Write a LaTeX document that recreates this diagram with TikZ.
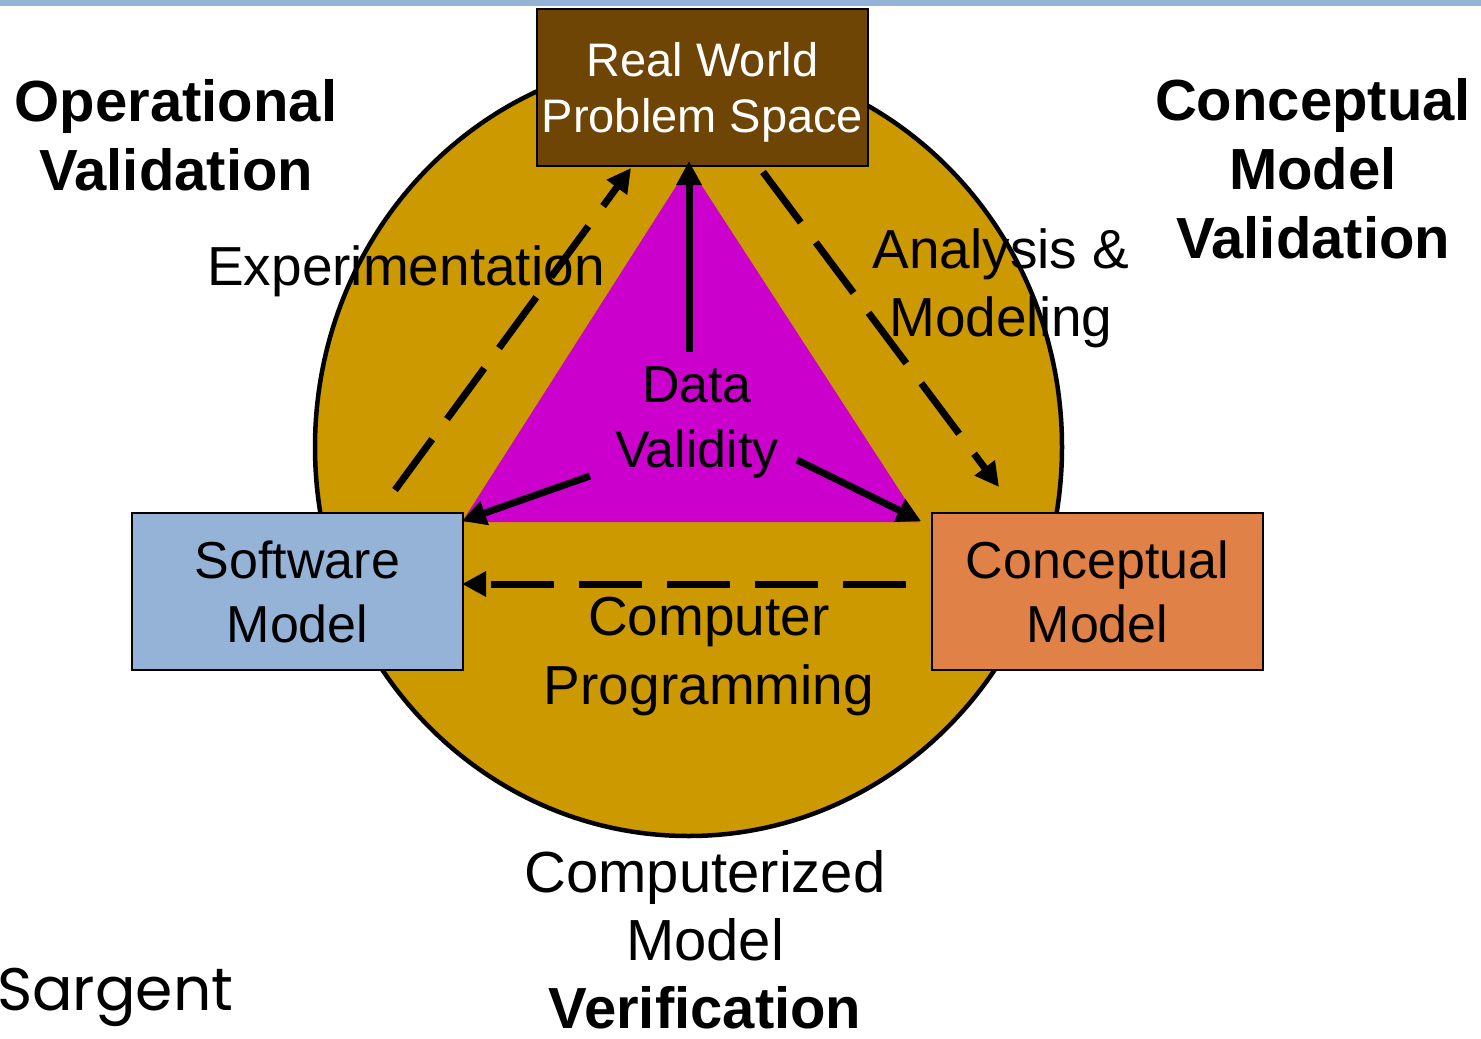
\documentclass[tikz,border=0pt]{standalone}
\usepackage{fontspec}
\setmainfont{Liberation Sans}
\newfontfamily\geofont{Poppins}
\usetikzlibrary{arrows.meta}
\definecolor{barblue}{RGB}{149,179,215}
\definecolor{goldfill}{RGB}{204,153,0}
\definecolor{magfill}{RGB}{204,0,204}
\definecolor{brownbox}{RGB}{111,69,6}
\definecolor{orangebox}{RGB}{224,129,72}
\tikzset{
  boxst/.style={draw=black, line width=2.5pt, minimum width=331pt, minimum height=157pt, inner sep=0pt, align=center},
  boxfont/.style={font=\fontsize{52}{64}\selectfont},
  lbl/.style={align=center, inner sep=0pt, font=\fontsize{55}{69}\selectfont},
  bigbold/.style={align=center, inner sep=0pt, font=\bfseries\fontsize{58}{69}\selectfont},
  arr/.style={line width=7pt, -{Triangle[length=24pt,width=24pt]}},
  darr/.style={arr, dash pattern=on 63pt off 25pt}
}
\begin{document}
\begin{tikzpicture}[x=1pt,y=-1pt]
\useasboundingbox (0,0) rectangle (1481,1039);
\fill[barblue] (0,0) rectangle (1481,6);
% big circle
\draw[line width=4.5pt, fill=goldfill] (688.5,447) ellipse [x radius=373.5, y radius=389];
% triangle
\coordinate (apex) at (689,166);
\coordinate (bl) at (462,522);
\coordinate (br) at (920,522);
\fill[magfill] (apex) -- (bl) -- (br) -- cycle;
% boxes
\node[boxst, fill=brownbox, text=white, font=\fontsize{47}{56}\selectfont, text depth=0pt] (rw) at (702.5,87.5) {Real World\\Problem Space};
\node[boxst, boxfont, fill=barblue] (sw) at (297.5,591.5) {Software\\Model};
\node[boxst, boxfont, fill=orangebox] (cm) at (1097.5,591.5) {Conceptual\\Model};
% labels
\node[bigbold] (opv) at (176,135) {Operational\\Validation};
\node[bigbold] (cmv) at (1313,169) {Conceptual\\Model\\Validation};
\node[align=center, inner sep=0pt, font=\fontsize{58}{68}\selectfont] (cmver) at (705,940) {Computerized\\Model\\\textbf{Verification}};
\node[lbl, anchor=base] (exp) at (406,285) {Experimentation};
\node[lbl, font=\fontsize{55}{68}\selectfont] (anm) at (1001,288) {Analysis \&\\Modeling};
\node[lbl, font=\fontsize{52}{65}\selectfont] (dv) at (697,423) {Data\\Validity};
\node[lbl] (cp) at (709,656) {Computer\\Programming};
\node[anchor=base west, inner sep=0pt, font=\geofont\fontsize{60}{70}\selectfont] (sarg) at (-3,1010) {Sargent};
% arrow end points
\coordinate (dvU) at (689,352);
\coordinate (vtip) at (689,161);
\coordinate (dvL) at (590,476);
\coordinate (dvLtip) at (462,521);
\coordinate (dvR) at (797,460);
\coordinate (dvRtip) at (921,521);
\coordinate (expS) at (395,490);
\coordinate (expE) at (631,168);
\coordinate (anS) at (763,172);
\coordinate (anE) at (999,487);
\coordinate (cpS) at (906,584);
\coordinate (cpE) at (462,584);
% arrows
\draw[arr] (dvU) -- (vtip);
\draw[arr] (dvL) -- (dvLtip);
\draw[arr] (dvR) -- (dvRtip);
\draw[darr] (expS) -- (expE);
\draw[darr] (anS) -- (anE);
\draw[darr] (cpS) -- (cpE);
\end{tikzpicture}
\end{document}
